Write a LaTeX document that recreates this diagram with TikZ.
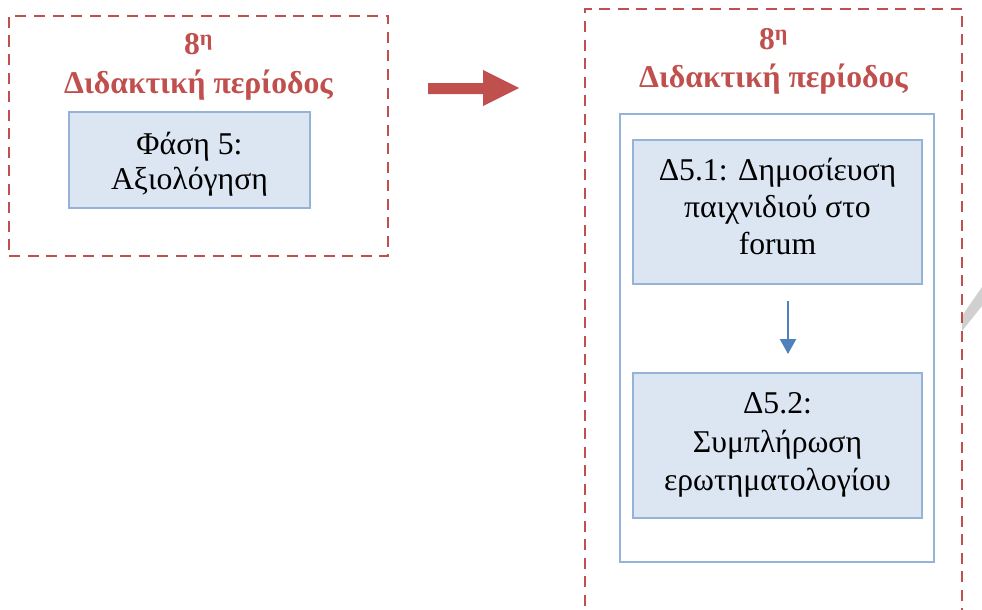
\documentclass[tikz,border=0pt]{standalone}
\usepackage{fontspec}
\setmainfont{Liberation Serif}
\usetikzlibrary{arrows.meta}
\definecolor{phasered}{HTML}{C0504D}
\definecolor{boxline}{HTML}{95B3D7}
\definecolor{boxfill}{HTML}{DCE6F2}
\definecolor{arrowblue}{HTML}{4F81BD}
\definecolor{bandgrey}{HTML}{D0D0D0}
\tikzset{
  period/.style={draw=phasered, line width=2.9pt, dash pattern=on 11pt off 7.5pt, inner sep=0pt},
  titletext/.style={text=phasered, font=\bfseries\fontsize{31.7}{36}\selectfont, inner sep=0pt, anchor=base},
  stepbox/.style={draw=boxline, fill=boxfill, line width=1.8pt, inner sep=0pt},
  steptext/.style={align=center, inner sep=0pt, anchor=base, font=\fontsize{31.7}{37}\selectfont},
  frame/.style={draw=boxline, line width=1.8pt, inner sep=0pt},
  flow/.style={draw=arrowblue, line width=2.2pt, -{Triangle[width=16pt,length=15pt]}}
}
\begin{document}
\begin{tikzpicture}[x=1pt,y=-1pt]
\useasboundingbox (0,0) rectangle (982,610);
% grey band at right edge
\fill[bandgrey] (962,316) -- (982,287) -- (982,306) -- (962,331) -- cycle;
% left period
\node[period, minimum width=379pt, minimum height=240pt] (L) at (198.5,136) {};
\node[titletext] (Lnum) at (198.5,55) {8\textsuperscript{η}};
\node[titletext] (Ltitle) at (198.5,93) {Διδακτική περίοδος};
\node[stepbox, minimum width=241pt, minimum height=96pt] (phase) at (189.5,160) {};
\node[steptext] (phasetext) at (189.5,154) {Φάση 5:};
\node[steptext] (phasetext2) at (189.5,189) {Αξιολόγηση};
% big red arrow
\fill[phasered] (428,83) -- (483,83) -- (483,70) -- (519,88) -- (483,106) -- (483,94) -- (428,94) -- cycle;
% right period
\node[period, minimum width=377pt, minimum height=640pt] (R) at (773.5,329) {};
\node[titletext] (Rnum) at (773.5,50) {8\textsuperscript{η}};
\node[titletext] (Rtitle) at (773.5,87) {Διδακτική περίοδος};
\node[frame, fill=white, minimum width=314pt, minimum height=448pt] (F) at (777,338) {};
\node[stepbox, minimum width=289pt, minimum height=144pt] (d1) at (777.5,212) {};
\node[steptext] (d1a) at (777.5,180) {Δ5.1: Δημοσίευση};
\node[steptext] (d1b) at (777.5,217) {παιχνιδιού στο};
\node[steptext] (d1c) at (777.5,254) {forum};
\node[stepbox, minimum width=289pt, minimum height=145pt] (d2) at (777.5,445.5) {};
\node[steptext] (d2a) at (777.5,413) {Δ5.2:};
\node[steptext] (d2b) at (777.5,452) {Συμπλήρωση};
\node[steptext] (d2c) at (777.5,490) {ερωτηματολογίου};
\coordinate (a1) at (788,301);
\coordinate (a2) at (788,354);
\draw[flow] (a1) -- (a2);
\end{tikzpicture}
\end{document}
